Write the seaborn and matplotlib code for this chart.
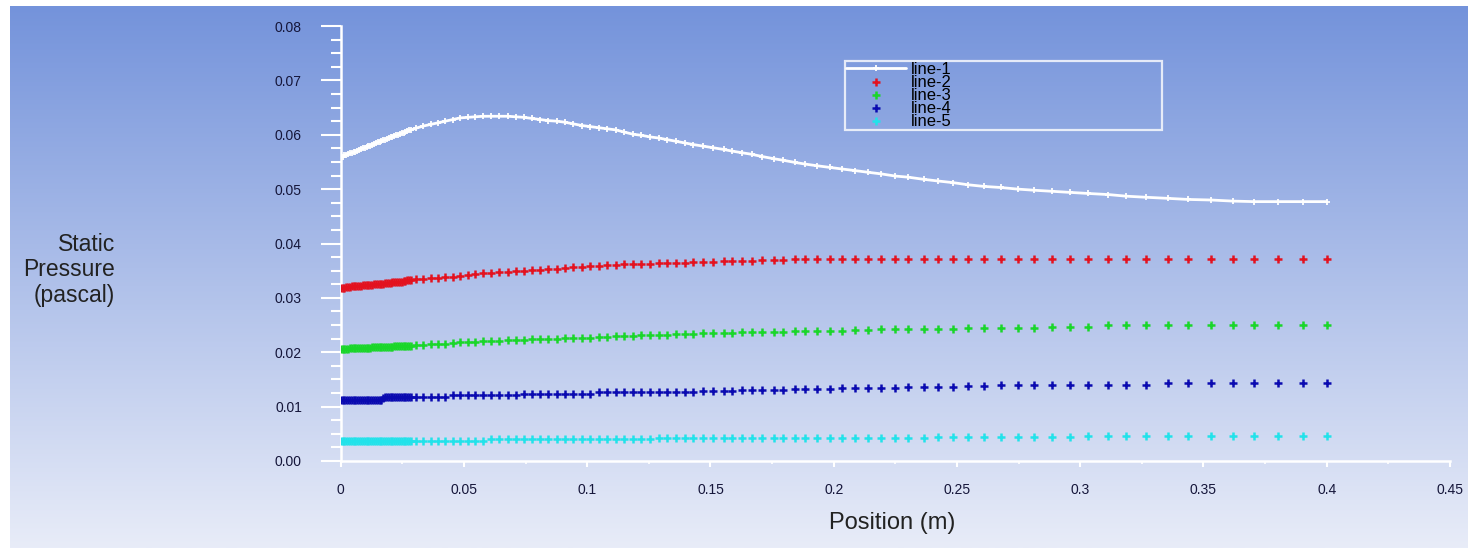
import numpy as np
import pandas as pd
import matplotlib
matplotlib.use("Agg")
import matplotlib.pyplot as plt
from matplotlib.ticker import MultipleLocator
import seaborn as sns

# ---------------- data ----------------
position = [
    0.0, 0.00075, 0.0015, 0.00225, 0.003, 0.00375, 0.0045, 0.00525, 0.006, 0.00675,
    0.0075, 0.00825, 0.009, 0.00975, 0.0105, 0.01125, 0.012, 0.01275, 0.0135, 0.01425,
    0.015, 0.01575, 0.0165, 0.01725, 0.018, 0.01875, 0.0195, 0.02025, 0.021, 0.02175,
    0.0225, 0.02325, 0.024, 0.02475, 0.0255, 0.02625, 0.027, 0.02775, 0.0285,
    0.0305, 0.0335, 0.0365, 0.0395, 0.0425, 0.0455, 0.0485, 0.0515, 0.0545, 0.0578,
    0.0611, 0.0644, 0.0677, 0.071, 0.0743, 0.0776, 0.0809, 0.0842, 0.0876, 0.091,
    0.0944, 0.0978, 0.1012, 0.1046, 0.108, 0.1115, 0.115, 0.1185, 0.122, 0.1255,
    0.129, 0.1325, 0.136, 0.1395, 0.143,
    0.1471, 0.1512, 0.1553, 0.1587, 0.1627, 0.1668, 0.1709, 0.1756, 0.1796, 0.1844,
    0.1885, 0.1932, 0.1983, 0.2034, 0.2088, 0.2139, 0.2193, 0.2250, 0.2302, 0.2365,
    0.2422, 0.2483, 0.2545, 0.2609, 0.2677, 0.2747, 0.2812,
    0.2886, 0.2958, 0.3033, 0.3114, 0.3187, 0.3268, 0.3356, 0.3439, 0.3530, 0.3618,
    0.3705, 0.3804, 0.3902, 0.4000,
]

line_1 = [
    0.0559, 0.0560, 0.0562, 0.0563, 0.0564, 0.0566, 0.0567, 0.0568, 0.0569, 0.0571,
    0.0572, 0.0574, 0.0575, 0.0576, 0.0577, 0.0579, 0.0580, 0.0582, 0.0583, 0.0585,
    0.0586, 0.0587, 0.0588, 0.0590, 0.0591, 0.0593, 0.0594, 0.0595, 0.0596, 0.0598,
    0.0599, 0.0600, 0.0601, 0.0603, 0.0604, 0.0605, 0.0606, 0.0608, 0.0609,
    0.0612, 0.0616, 0.0619, 0.0622, 0.0625, 0.0628, 0.0631, 0.0632, 0.0633, 0.0634,
    0.0634, 0.0634, 0.0634, 0.0633, 0.0632, 0.0630, 0.0628, 0.0626, 0.0625, 0.0623,
    0.0620, 0.0617, 0.0615, 0.0613, 0.0611, 0.0609, 0.0605, 0.0601, 0.0599, 0.0596,
    0.0594, 0.0591, 0.0588, 0.0585, 0.0582,
    0.0579, 0.0576, 0.0573, 0.0570, 0.0567, 0.0564, 0.0560, 0.0556, 0.0553, 0.0549,
    0.0546, 0.0543, 0.0540, 0.0537, 0.0534, 0.0531, 0.0528, 0.0524, 0.0522, 0.0518,
    0.0515, 0.0512, 0.0508, 0.0505, 0.0503, 0.0500, 0.0498,
    0.0496, 0.0494, 0.0492, 0.0490, 0.0487, 0.0485, 0.0483, 0.0481, 0.0480, 0.0478,
    0.0477, 0.0477, 0.0477, 0.0477,
]

line_2 = [
    0.0319, 0.0319, 0.0319, 0.0320, 0.0320, 0.0320, 0.0321, 0.0321, 0.0321, 0.0322,
    0.0322, 0.0322, 0.0323, 0.0323, 0.0324, 0.0324, 0.0324, 0.0324, 0.0325, 0.0325,
    0.0326, 0.0326, 0.0326, 0.0326, 0.0327, 0.0327, 0.0328, 0.0328, 0.0329, 0.0329,
    0.0329, 0.0329, 0.0330, 0.0330, 0.0331, 0.0331, 0.0332, 0.0332, 0.0333,
    0.0334, 0.0335, 0.0336, 0.0337, 0.0338, 0.0339, 0.0341, 0.0342, 0.0343, 0.0345,
    0.0346, 0.0347, 0.0348, 0.0349, 0.0350, 0.0351, 0.0352, 0.0353, 0.0354, 0.0355,
    0.0356, 0.0357, 0.0358, 0.0359, 0.0360, 0.0361, 0.0362, 0.0362, 0.0363, 0.0363,
    0.0364, 0.0364, 0.0365, 0.0365, 0.0366,
    0.0366, 0.0366, 0.0367, 0.0367, 0.0368, 0.0368, 0.0369, 0.0370, 0.0370, 0.0371,
    0.0371, 0.0371, 0.0371, 0.0371, 0.0371, 0.0371, 0.0371, 0.0371, 0.0371, 0.0371,
    0.0371, 0.0371, 0.0371, 0.0371, 0.0371, 0.0371, 0.0371,
    0.0371, 0.0371, 0.0371, 0.0371, 0.0371, 0.0371, 0.0371, 0.0371, 0.0371, 0.0371,
    0.0371, 0.0371, 0.0371, 0.0371,
]

line_3 = [
    0.0206, 0.0206, 0.0206, 0.0206, 0.0206, 0.0207, 0.0207, 0.0207, 0.0207, 0.0207,
    0.0207, 0.0208, 0.0208, 0.0208, 0.0208, 0.0208, 0.0208, 0.0209, 0.0209, 0.0209,
    0.0209, 0.0209, 0.0209, 0.0210, 0.0210, 0.0210, 0.0210, 0.0210, 0.0210, 0.0211,
    0.0211, 0.0211, 0.0211, 0.0211, 0.0211, 0.0212, 0.0212, 0.0212, 0.0212,
    0.0213, 0.0214, 0.0215, 0.0215, 0.0216, 0.0217, 0.0218, 0.0219, 0.0219, 0.0220,
    0.0221, 0.0221, 0.0222, 0.0223, 0.0223, 0.0224, 0.0224, 0.0225, 0.0225, 0.0226,
    0.0226, 0.0227, 0.0227, 0.0228, 0.0228, 0.0229, 0.0229, 0.0230, 0.0231, 0.0231,
    0.0232, 0.0232, 0.0233, 0.0233, 0.0234,
    0.0235, 0.0235, 0.0236, 0.0236, 0.0237, 0.0237, 0.0237, 0.0238, 0.0238, 0.0239,
    0.0239, 0.0240, 0.0240, 0.0240, 0.0241, 0.0241, 0.0242, 0.0242, 0.0242, 0.0243,
    0.0243, 0.0243, 0.0244, 0.0244, 0.0244, 0.0245, 0.0245,
    0.0246, 0.0246, 0.0246, 0.0250, 0.0250, 0.0251, 0.0251, 0.0251, 0.0251, 0.0251,
    0.0251, 0.0251, 0.0251, 0.0251,
]

line_4 = [
    0.0113, 0.0113, 0.0113, 0.0113, 0.0113, 0.0113, 0.0113, 0.0113, 0.0113, 0.0113,
    0.0113, 0.0113, 0.0113, 0.0113, 0.0113, 0.0113, 0.0113, 0.0113, 0.0113, 0.0113,
    0.0113, 0.0113, 0.0113, 0.0115, 0.0117, 0.0117, 0.0118, 0.0118, 0.0118, 0.0118,
    0.0118, 0.0118, 0.0118, 0.0118, 0.0118, 0.0118, 0.0118, 0.0118, 0.0118,
    0.0118, 0.0118, 0.0118, 0.0118, 0.0118, 0.0121, 0.0121, 0.0121, 0.0121, 0.0121,
    0.0121, 0.0121, 0.0121, 0.0121, 0.0124, 0.0124, 0.0124, 0.0124, 0.0124, 0.0124,
    0.0124, 0.0124, 0.0124, 0.0127, 0.0127, 0.0127, 0.0127, 0.0127, 0.0127, 0.0127,
    0.0127, 0.0127, 0.0127, 0.0127, 0.0127,
    0.0128, 0.0128, 0.0129, 0.0129, 0.0130, 0.0130, 0.0131, 0.0131, 0.0131, 0.0132,
    0.0132, 0.0133, 0.0133, 0.0134, 0.0134, 0.0134, 0.0135, 0.0135, 0.0136, 0.0136,
    0.0137, 0.0137, 0.0138, 0.0138, 0.0139, 0.0139, 0.0140,
    0.0140, 0.0140, 0.0140, 0.0140, 0.0140, 0.0140, 0.0143, 0.0143, 0.0143, 0.0143,
    0.0143, 0.0143, 0.0143, 0.0143,
]

line_5 = [
    0.0036, 0.0036, 0.0036, 0.0036, 0.0036, 0.0036, 0.0036, 0.0036, 0.0036, 0.0036,
    0.0036, 0.0036, 0.0036, 0.0036, 0.0036, 0.0036, 0.0036, 0.0036, 0.0036, 0.0036,
    0.0036, 0.0036, 0.0036, 0.0036, 0.0036, 0.0036, 0.0036, 0.0036, 0.0036, 0.0036,
    0.0036, 0.0036, 0.0036, 0.0036, 0.0036, 0.0036, 0.0036, 0.0036, 0.0036,
    0.0036, 0.0036, 0.0036, 0.0036, 0.0036, 0.0036, 0.0036, 0.0036, 0.0036, 0.0036,
    0.0040, 0.0040, 0.0040, 0.0040, 0.0040, 0.0040, 0.0040, 0.0040, 0.0040, 0.0040,
    0.0040, 0.0040, 0.0040, 0.0040, 0.0040, 0.0040, 0.0040, 0.0040, 0.0040, 0.0040,
    0.0042, 0.0042, 0.0042, 0.0042, 0.0042,
    0.0042, 0.0042, 0.0042, 0.0042, 0.0042, 0.0042, 0.0042, 0.0042, 0.0042, 0.0042,
    0.0043, 0.0043, 0.0043, 0.0043, 0.0043, 0.0043, 0.0043, 0.0043, 0.0043, 0.0043,
    0.0044, 0.0044, 0.0044, 0.0044, 0.0044, 0.0044, 0.0044,
    0.0045, 0.0045, 0.0046, 0.0046, 0.0046, 0.0046, 0.0046, 0.0046, 0.0046, 0.0046,
    0.0046, 0.0046, 0.0046, 0.0046,
]

series_names = ["line-1", "line-2", "line-3", "line-4", "line-5"]
x_ticks = [0, 0.05, 0.1, 0.15, 0.2, 0.25, 0.3, 0.35, 0.4, 0.45]
x_tick_labels = ["0", "0.05", "0.1", "0.15", "0.2", "0.25", "0.3", "0.35", "0.4", "0.45"]
y_ticks = [0.0, 0.01, 0.02, 0.03, 0.04, 0.05, 0.06, 0.07, 0.08]
y_tick_labels = ["0.00", "0.01", "0.02", "0.03", "0.04", "0.05", "0.06", "0.07", "0.08"]
x_title = "Position (m)"
y_title = "Static\nPressure\n(pascal)"

# ---------------- styling ----------------
sns.set_style("white")
plt.rcParams["font.family"] = ["Liberation Sans", "DejaVu Sans"]

colors = {"line-1": "#ffffff", "line-2": "#e3121f", "line-3": "#1ad62a",
          "line-4": "#0a0ab0", "line-5": "#22e2ea"}

W, H = 1468, 550
fig = plt.figure(figsize=(W / 100, H / 100), dpi=100)
fig.patch.set_facecolor("white")

# gradient background panel
bg = fig.add_axes([10 / W, 2 / H, (W - 10) / W, (H - 8) / H])
top = np.array([116, 147, 219]) / 255
bot = np.array([232, 236, 248]) / 255
t = np.linspace(0, 1, 256)[:, None]
grad = (top[None, :] * (1 - t) + bot[None, :] * t)[:, None, :]
bg.imshow(grad, aspect="auto", extent=[0, 1, 0, 1], interpolation="bilinear")
bg.axis("off")

# main axes
x0, x1 = 340.7, 1450.0
yb, yt = 461.0, 26.0
ax = fig.add_axes([x0 / W, 1 - yb / H, (x1 - x0) / W, (yb - yt) / H])
ax.patch.set_alpha(0)

df = pd.DataFrame({"position": position, "line-1": line_1, "line-2": line_2,
                   "line-3": line_3, "line-4": line_4, "line-5": line_5})

sns.lineplot(data=df, x="position", y="line-1", ax=ax, color=colors["line-1"],
             lw=2, marker="+", markersize=5, markeredgewidth=1.3,
             markeredgecolor="white", label="line-1", zorder=5)
for name in series_names[1:]:
    sns.scatterplot(data=df, x="position", y=name, ax=ax, color=colors[name],
                    marker="+", s=26, linewidth=1.8, label=name, zorder=4)

ax.set_xlim(0, 0.45)
ax.set_ylim(0, 0.08)
ax.set_xticks(x_ticks)
ax.set_xticklabels(x_tick_labels)
ax.set_yticks(y_ticks)
ax.set_yticklabels(y_tick_labels)
ax.xaxis.set_minor_locator(MultipleLocator(0.025))
ax.yaxis.set_minor_locator(MultipleLocator(0.0025))

lab_col = "#15163a"
ax.tick_params(axis="y", which="major", left=True, direction="out", length=14.4,
               width=1.5, color="white", pad=13.5, labelsize=10, labelcolor=lab_col)
ax.tick_params(axis="y", which="minor", left=True, direction="out", length=7.2,
               width=1.5, color="white")
ax.tick_params(axis="x", which="major", bottom=True, direction="out", length=4.5,
               width=1.5, color="white", pad=11, labelsize=10, labelcolor=lab_col)
ax.tick_params(axis="x", which="minor", bottom=True, direction="out", length=2,
               width=1.2, color="white")

for side in ["top", "right"]:
    ax.spines[side].set_visible(False)
for side in ["left", "bottom"]:
    ax.spines[side].set_color("white")
    ax.spines[side].set_linewidth(1.8)

ax.set_xlabel(x_title, fontsize=17, color="#222222")
ax.xaxis.set_label_coords((892 - x0) / (x1 - x0), (yb - 523) / (yb - yt))
ax.xaxis.label.set_va("center")
ax.set_ylabel(y_title, fontsize=16.5, color="#222222", rotation=0,
              ha="right", va="center", multialignment="right", linespacing=1.15)
ax.yaxis.set_label_coords((115 - x0) / (x1 - x0), (yb - 270) / (yb - yt))

# legend
lx0 = (845 - x0) / (x1 - x0)
lx1 = (1162 - x0) / (x1 - x0)
ly = (yb - 61) / (yb - yt)
handles, labels = ax.get_legend_handles_labels()
leg = ax.legend(handles, labels, loc="upper left",
                bbox_to_anchor=(lx0, ly, lx1 - lx0, 0), mode="expand",
                frameon=True, fancybox=False, edgecolor="white", facecolor="none",
                fontsize=12, labelspacing=-0.12, borderpad=0.05, handlelength=3.6,
                handletextpad=0.3, borderaxespad=0, scatterpoints=1)
leg.get_frame().set_linewidth(1.6)
for txt in leg.get_texts():
    txt.set_color("#000000")

fig.savefig("out.png", dpi=100, facecolor="white")
